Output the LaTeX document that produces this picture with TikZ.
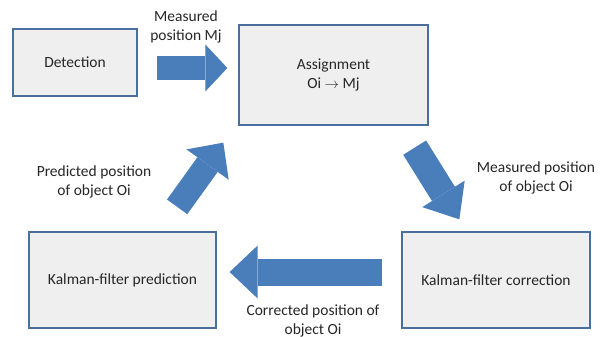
\documentclass[tikz,border=0pt]{standalone}
\usepackage{fontspec}
\setmainfont{Carlito}
\usetikzlibrary{arrows.meta}

\definecolor{boxfill}{HTML}{EFEFEF}
\definecolor{boxline}{HTML}{4A6E9E}
\definecolor{flowblue}{HTML}{4A7EBB}
\definecolor{txt}{HTML}{262626}

\tikzset{
  block/.style={draw=boxline,line width=1.3pt,fill=boxfill,
    text=txt,align=center,font=\fontsize{15.5}{18.5}\selectfont},
  lbl/.style={text=txt,align=center,font=\fontsize{15.5}{18.5}\selectfont},
  flow/.style={draw=flowblue,line width=26pt,
    -{Triangle[width=52pt,length=27pt,line width=0pt]}}
}

\begin{document}
\begin{tikzpicture}[x=1pt,y=-1pt]
\useasboundingbox (0,0) rectangle (606,337);

\node[block,minimum width=124pt,minimum height=67pt] (det) at (75,62.5) {Detection};
\node[block,minimum width=189pt,minimum height=100pt] (asg) at (333.5,75)
    {Assignment\\Oi $\rightarrow$ Mj};
\node[block,minimum width=187pt,minimum height=96pt] (pred) at (122.5,280)
    {Kalman-filter prediction};
\node[block,minimum width=188pt,minimum height=96pt] (corr) at (496,280)
    {Kalman-filter correction};

% block arrows between the boxes
\draw[flow,line width=24pt,-{Triangle[width=47pt,length=22pt,line width=0pt]}]
    ([xshift=19pt,yshift=-5.5pt]det.east) -- ([xshift=-11pt,yshift=7pt]asg.west);
\draw[flow,line width=25pt]
    ([xshift=-39.5pt,yshift=24.5pt]pred.north east)
    -- ([xshift=-15pt,yshift=-17pt]asg.south west);
\draw[flow,line width=27pt,-{Triangle[width=50pt,length=30pt,line width=0pt]}]
    ([xshift=-14pt,yshift=-22pt]asg.south east)
    -- ([xshift=58pt,yshift=12pt]corr.north west);
\draw[flow,line width=27pt,-{Triangle[width=53pt,length=28pt,line width=0pt]}]
    ([xshift=-19pt,yshift=8pt]corr.west) -- ([xshift=13pt,yshift=8pt]pred.east);

\node[lbl] (lmj) at (186,27) {Measured\\position Mj};
\node[lbl] (lpred) at (94,182) {Predicted position\\of object Oi};
\node[lbl] (lmeas) at (536,178) {Measured position\\of object Oi};
\node[lbl] (lcorr) at (313,321) {Corrected position of\\object Oi};
\end{tikzpicture}
\end{document}
